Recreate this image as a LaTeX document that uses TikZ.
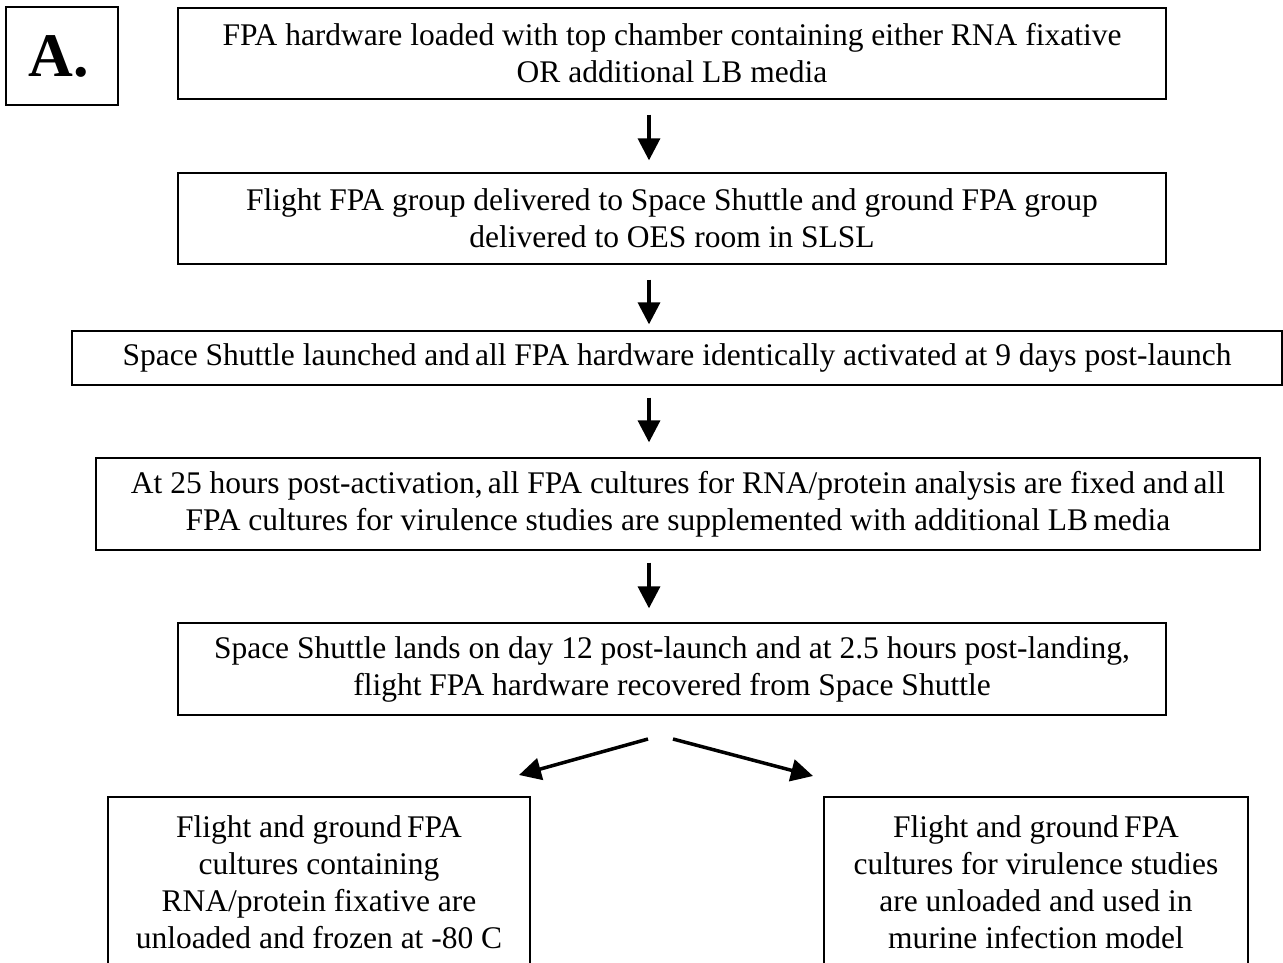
\documentclass[tikz,border=0pt]{standalone}
\usepackage{fontspec}
\setmainfont{Liberation Serif}
\usetikzlibrary{arrows.meta}
\begin{document}
\begin{tikzpicture}[x=1pt,y=-1pt,
  stepbox/.style={draw=black,line width=1.3pt,inner sep=0pt,align=center,
    font=\fontsize{31.5}{37}\selectfont},
  arr/.style={line width=3.5pt,-{Triangle[length=22pt,width=22pt]}}]
\useasboundingbox (0,0) rectangle (1283,962);
\clip (0,0) rectangle (1283,962);
\node[draw=black,line width=1.3pt,minimum width=112pt,minimum height=98pt,inner sep=0pt,
  font=\fontsize{62}{66}\selectfont\bfseries] (lab) at (62,56) {\kern-6pt A.};
\node[stepbox,minimum width=988pt,minimum height=91pt] (b1) at (672,53.5)
  {FPA hardware loaded with top chamber containing either RNA fixative\\OR additional LB media};
\node[stepbox,minimum width=988pt,minimum height=91pt] (b2) at (672,218.5)
  {Flight FPA group delivered to Space Shuttle and ground FPA group\\delivered to OES room in SLSL};
\node[stepbox,minimum width=1210pt,minimum height=54pt] (b3) at (677,358)
  {Space Shuttle launched and\,all FPA hardware identically activated at 9 days post-launch};
\node[stepbox,minimum width=1164pt,minimum height=92pt] (b4) at (678,504)
  {At 25 hours post-activation,\,all FPA cultures for RNA/protein analysis are fixed and\,all\\FPA cultures for virulence studies are supplemented with additional LB\,media};
\node[stepbox,minimum width=988pt,minimum height=92pt] (b5) at (672,669)
  {Space Shuttle lands on day 12 post-launch and at 2.5 hours post-landing,\\flight FPA hardware recovered from Space Shuttle};
\node[stepbox,minimum width=422pt,minimum height=170pt] (b6) at (319,882)
  {Flight and ground\,FPA\\cultures containing\\RNA/protein fixative are\\unloaded and frozen at -80 C};
\node[stepbox,minimum width=424pt,minimum height=170pt] (b7) at (1036,882)
  {Flight and ground\,FPA\\cultures for virulence studies\\are unloaded and used in\\murine infection model};
\coordinate (ax) at (649,0);
\draw[arr,shorten <=15pt,shorten >=12pt] (b1.south -| ax) -- (b2.north -| ax);
\draw[arr,shorten <=15pt,shorten >=6pt] (b2.south -| ax) -- (b3.north -| ax);
\draw[arr,shorten <=12pt,shorten >=15pt] (b3.south -| ax) -- (b4.north -| ax);
\draw[arr,shorten <=12pt,shorten >=14pt] (b4.south -| ax) -- (b5.north -| ax);
\coordinate (s1) at (648,739);
\coordinate (e1) at (519,775);
\coordinate (s2) at (673,739);
\coordinate (e2) at (813,776);
\draw[arr] (s1) -- (e1);
\draw[arr] (s2) -- (e2);
\end{tikzpicture}
\end{document}
